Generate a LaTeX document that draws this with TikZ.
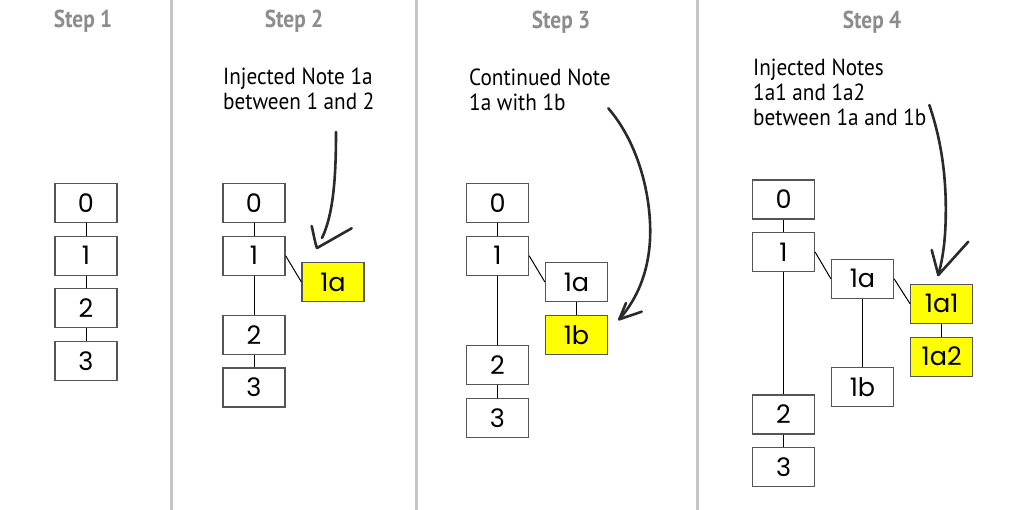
\documentclass[tikz,border=0pt]{standalone}
\usepackage{fontspec}
\newfontfamily\titlefont[FakeStretch=0.87]{PT Sans Bold}
\newfontfamily\annfont[FakeStretch=0.91]{PT Sans}
\newfontfamily\boxfont{Poppins}
\definecolor{boxline}{HTML}{555555}
\definecolor{hlyellow}{HTML}{FFFF00}
\definecolor{titlegray}{HTML}{8C8C8C}
\definecolor{handcol}{HTML}{2A2A2A}
\definecolor{divcol}{HTML}{C6C6C6}
\tikzset{
  nbox/.style={draw=boxline, line width=1.2pt, fill=white, minimum width=62pt, minimum height=39pt, inner sep=0pt, font=\boxfont\fontsize{25.5}{25.5}\selectfont},
  hl/.style={nbox, fill=hlyellow},
  link/.style={line width=1pt, draw=black},
  steptitle/.style={font=\titlefont\fontsize{24.5}{24.5}\selectfont, text=titlegray, anchor=base, inner sep=0pt},
  note/.style={font=\annfont\fontsize{23.3}{25}\selectfont, anchor=base west, align=left, inner sep=0pt},
  hand/.style={line width=2.6pt, draw=handcol, line cap=round, line join=round},
  divider/.style={line width=3pt, draw=divcol}
}
\begin{document}
\begin{tikzpicture}[x=1pt, y=-1pt]
\useasboundingbox (0,0) rectangle (1024,510);
\fill[white] (0,0) rectangle (1024,510);
% dividers
\draw[divider] (171,0) -- (171,510);
\draw[divider] (416,0) -- (416,510);
\draw[divider] (697,0) -- (697,510);
% titles
\node[steptitle] (t1) at (83,28) {Step 1};
\node[steptitle] (t2) at (294,28) {Step 2};
\node[steptitle] (t3) at (561,29) {Step 3};
\node[steptitle] (t4) at (872,29) {Step 4};
% notes (anchor at the baseline of the last line)
\node[note] (n2) at (223,110) {Injected Note 1a\\between 1 and 2};
\node[note] (n3) at (469,110.5) {Continued Note\\1a with 1b};
\node[note] (n4) at (753,126) {Injected Notes\\1a1 and 1a2\\between 1a and 1b};
% Step 1
\node[nbox] (a0) at (86,202.8) {0};
\node[nbox] (a1) at (86,255.7) {1};
\node[nbox] (a2) at (86,308.3) {2};
\node[nbox] (a3) at (86,361) {3};
\draw[link] (a0) -- (a1);
\draw[link] (a1) -- (a2);
\draw[link] (a2) -- (a3);
% Step 2
\node[nbox] (b0) at (254,202.8) {0};
\node[nbox] (b1) at (254,255.7) {1};
\node[nbox] (b2) at (254,334.7) {2};
\node[nbox] (b3) at (254,387.5) {3};
\node[hl] (b1a) at (333,282) {1a};
\draw[link] (b0) -- (b1);
\draw[link] (b1) -- (b2);
\draw[link] (b2) -- (b3);
\draw[link] (b1.east) -- (b1a.west);
% Step 3
\node[nbox] (c0) at (497.5,202.8) {0};
\node[nbox] (c1) at (497.5,255.7) {1};
\node[nbox] (c2) at (497.5,365.3) {2};
\node[nbox] (c3) at (497.5,418) {3};
\node[nbox] (c1a) at (576.5,282) {1a};
\node[hl] (c1b) at (576.5,334.7) {1b};
\draw[link] (c0) -- (c1);
\draw[link] (c1) -- (c2);
\draw[link] (c2) -- (c3);
\draw[link] (c1.east) -- (c1a.west);
\draw[link] (c1a) -- (c1b);
% Step 4
\node[nbox] (d0) at (783.5,199.5) {0};
\node[nbox] (d1) at (783.5,252) {1};
\node[nbox] (d2) at (783.5,414.5) {2};
\node[nbox] (d3) at (783.5,467) {3};
\node[nbox] (d1a) at (862.5,278.8) {1a};
\node[nbox] (d1b) at (862.5,386.7) {1b};
\node[hl] (d1a1) at (941.7,303.8) {1a1};
\node[hl] (d1a2) at (941.7,356.7) {1a2};
\draw[link] (d0) -- (d1);
\draw[link] (d1) -- (d2);
\draw[link] (d2) -- (d3);
\draw[link] (d1.east) -- (d1a.west);
\draw[link] (d1a) -- (d1b);
\draw[link] (d1a.east) -- (d1a1.west);
\draw[link] (d1a1) -- (d1a2);
% hand-drawn arrows
\coordinate (p2s) at (336,132);
\coordinate (p2t) at (317,248);
\draw[hand] (p2s) .. controls (336,180) and (333,215) .. (322,238);
\draw[hand] (311.7,226) .. controls (314,236) and (315,243) .. (p2t) -- (351.7,228.3);
\coordinate (p3s) at (608.3,108.3);
\coordinate (p3t) at (619.3,319.3);
\draw[hand] (p3s) .. controls (640,145) and (652,200) .. (650,240) .. controls (648,275) and (636,300) .. (p3t);
\draw[hand] (626,303) -- (p3t) -- (641.7,311.7);
\coordinate (p4s) at (929.3,105);
\coordinate (p4t) at (938.3,275);
\draw[hand] (p4s) .. controls (943,145) and (947,185) .. (945.5,225) .. controls (944.5,250) and (941,265) .. (p4t);
\draw[hand] (931.7,250) -- (p4t) -- (968.3,241.7);
\end{tikzpicture}
\end{document}
